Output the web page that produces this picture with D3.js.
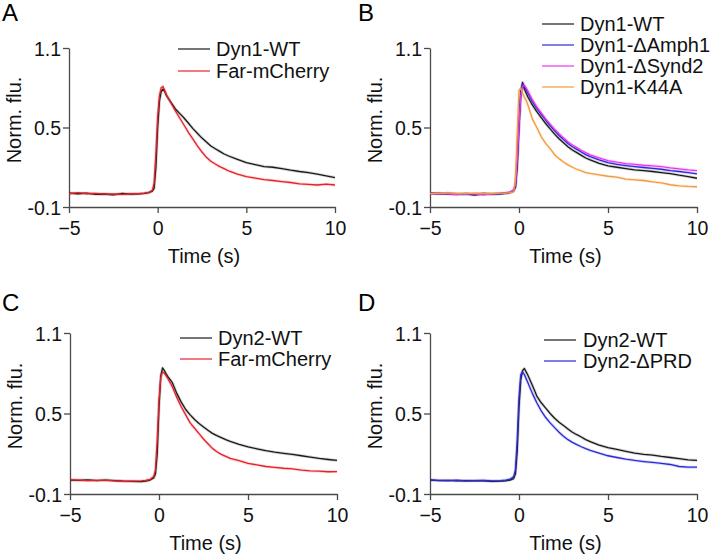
<!DOCTYPE html>
<html>
<head>
<meta charset="utf-8">
<script src="https://cdn.jsdelivr.net/npm/d3@7"></script>
<style>
  html, body { margin: 0; padding: 0; background: #fff; }
  svg { display: block; font-family: "Liberation Sans", Arial, Helvetica, sans-serif; }
</style>
</head>
<body>
<svg id="chart" width="712" height="557"></svg>
<script>
// ---------- DATA ----------
const time = [-5,-4.5,-4,-3.5,-3,-2.5,-2,-1.5,-1,-0.75,-0.5,-0.3,-0.2,-0.1,0,0.1,0.2,0.3,0.4,0.5,0.75,1,1.25,1.5,1.75,2,2.25,2.5,2.75,3,3.25,3.5,3.75,4,4.5,5,5.5,6,6.5,7,7.5,8,8.5,9,9.5,10];
const xTicks = [-5, 0, 5, 10];
const yTicks = [-0.1, 0.5, 1.1];
const yTickLabels = ["-0.1", "0.5", "1.1"];

const dyn1WT_A = [0.005,0.0,0.004,-0.004,-0.002,-0.008,0.002,-0.003,0.0,0.003,0.008,0.02,0.04,0.2,0.5,0.7,0.77,0.79,0.77,0.74,0.69,0.64,0.605,0.57,0.53,0.49,0.455,0.42,0.39,0.36,0.34,0.32,0.3,0.285,0.26,0.235,0.22,0.205,0.2,0.19,0.178,0.168,0.16,0.148,0.135,0.122];
const farMCherry_A = [0.0,0.008,0.0,0.003,-0.003,-0.002,-0.005,0.0,0.002,0.004,0.01,0.025,0.08,0.3,0.58,0.74,0.8,0.81,0.78,0.745,0.685,0.625,0.57,0.515,0.46,0.41,0.36,0.315,0.275,0.245,0.225,0.205,0.19,0.172,0.148,0.13,0.118,0.107,0.1,0.092,0.085,0.075,0.07,0.066,0.072,0.066];

const dyn1WT_B = [0.004,-0.002,0.003,-0.003,0.0,-0.01,0.0,-0.004,0.002,0.003,0.01,0.022,0.05,0.2,0.5,0.75,0.84,0.79,0.76,0.73,0.67,0.62,0.575,0.53,0.49,0.45,0.415,0.385,0.355,0.33,0.31,0.29,0.27,0.255,0.23,0.21,0.2,0.19,0.18,0.175,0.168,0.16,0.152,0.14,0.13,0.117];
const dyn1Amph1 = [0.002,0.003,-0.002,0.0,-0.004,-0.004,0.002,-0.002,0.0,0.004,0.01,0.024,0.06,0.25,0.55,0.77,0.83,0.81,0.785,0.76,0.695,0.645,0.6,0.555,0.515,0.475,0.44,0.41,0.38,0.355,0.335,0.315,0.295,0.28,0.255,0.235,0.222,0.213,0.205,0.198,0.192,0.185,0.175,0.168,0.16,0.15];
const dyn1Synd2 = [0.0,0.004,0.0,-0.006,0.002,-0.002,-0.008,0.0,0.003,0.005,0.012,0.03,0.07,0.25,0.52,0.74,0.81,0.82,0.8,0.775,0.71,0.655,0.61,0.565,0.525,0.487,0.453,0.422,0.393,0.368,0.348,0.328,0.31,0.293,0.27,0.25,0.238,0.228,0.222,0.215,0.21,0.205,0.195,0.188,0.18,0.174];
const dyn1K44A = [0.003,0.0,0.006,0.002,0.0,0.004,0.002,0.0,0.004,0.005,0.008,0.015,0.1,0.45,0.78,0.8,0.76,0.73,0.705,0.67,0.565,0.5,0.43,0.38,0.34,0.295,0.265,0.24,0.218,0.2,0.185,0.172,0.16,0.153,0.142,0.132,0.125,0.11,0.105,0.1,0.09,0.082,0.068,0.06,0.055,0.053];

const dyn2WT_C = [0.004,0.002,0.005,0.0,0.004,0.0,-0.004,-0.006,-0.008,-0.004,0.004,0.02,0.05,0.2,0.55,0.78,0.84,0.82,0.795,0.775,0.73,0.65,0.585,0.53,0.49,0.455,0.425,0.4,0.375,0.352,0.335,0.32,0.305,0.292,0.27,0.252,0.237,0.223,0.212,0.203,0.195,0.185,0.175,0.165,0.157,0.15];
const farMCherry_C = [0.006,0.004,0.0,0.002,0.002,-0.002,-0.005,-0.004,-0.002,0.002,0.008,0.03,0.08,0.3,0.6,0.77,0.81,0.8,0.78,0.76,0.7,0.62,0.55,0.49,0.43,0.39,0.35,0.31,0.275,0.24,0.215,0.195,0.18,0.165,0.148,0.128,0.117,0.105,0.098,0.092,0.088,0.078,0.072,0.07,0.066,0.067];

const dyn2WT_D = [0.005,0.0,0.002,-0.002,0.0,-0.002,-0.002,-0.006,-0.004,-0.002,0.004,0.015,0.05,0.22,0.55,0.75,0.82,0.835,0.81,0.785,0.71,0.63,0.58,0.54,0.5,0.465,0.435,0.41,0.385,0.36,0.342,0.325,0.305,0.29,0.265,0.245,0.232,0.218,0.205,0.196,0.19,0.18,0.172,0.163,0.155,0.15];
const dyn2PRD = [0.004,0.002,0.0,0.003,-0.002,0.0,0.002,-0.002,0.0,0.004,0.01,0.03,0.08,0.3,0.62,0.79,0.81,0.79,0.76,0.73,0.65,0.58,0.52,0.47,0.43,0.395,0.36,0.33,0.305,0.285,0.268,0.252,0.238,0.225,0.205,0.185,0.172,0.16,0.15,0.142,0.135,0.128,0.12,0.105,0.1,0.1];

const panelLetters = ["A", "B", "C", "D"];
const seriesNamesA = ["Dyn1-WT", "Far-mCherry"];
const seriesNamesB = ["Dyn1-WT", "Dyn1-ΔAmph1", "Dyn1-ΔSynd2", "Dyn1-K44A"];
const seriesNamesC = ["Dyn2-WT", "Far-mCherry"];
const seriesNamesD = ["Dyn2-WT", "Dyn2-ΔPRD"];

// ---------- STYLE / LAYOUT ----------
const COL = { black: "#1a1a1a", red: "#e8202a", blue: "#2a2ad8", magenta: "#ee35ee", orange: "#f39a3c" };

const panels = [
  { letter: panelLetters[0], box: { x0: 69, x1: 335, y0: 48, y1: 207 }, lp: { x: 178, y: 49, gap: 22, tx: 216 },
    series: [ { name: seriesNamesA[0], v: dyn1WT_A, c: COL.black }, { name: seriesNamesA[1], v: farMCherry_A, c: COL.red } ] },
  { letter: panelLetters[1], box: { x0: 430, x1: 697, y0: 48, y1: 207 }, lp: { x: 542, y: 24, gap: 21, tx: 580 },
    series: [ { name: seriesNamesB[0], v: dyn1WT_B, c: COL.black }, { name: seriesNamesB[1], v: dyn1Amph1, c: COL.blue },
              { name: seriesNamesB[2], v: dyn1Synd2, c: COL.magenta }, { name: seriesNamesB[3], v: dyn1K44A, c: COL.orange } ] },
  { letter: panelLetters[2], box: { x0: 70, x1: 337, y0: 333, y1: 494 }, lp: { x: 180, y: 338, gap: 21, tx: 218 },
    series: [ { name: seriesNamesC[0], v: dyn2WT_C, c: COL.black }, { name: seriesNamesC[1], v: farMCherry_C, c: COL.red } ] },
  { letter: panelLetters[3], box: { x0: 430, x1: 697, y0: 333, y1: 494 }, lp: { x: 544, y: 340, gap: 21, tx: 583 },
    series: [ { name: seriesNamesD[0], v: dyn2WT_D, c: COL.black }, { name: seriesNamesD[1], v: dyn2PRD, c: COL.blue } ] }
];

const svg = d3.select("#chart");
const AXIS_COL = "#4a4a4a";

panels.forEach((p, i) => {
  const b = p.box;
  const x = d3.scaleLinear().domain([-5, 10]).range([b.x0, b.x1]);
  const y = d3.scaleLinear().domain([-0.1, 1.1]).range([b.y1, b.y0]);
  const g = svg.append("g");

  // panel letter
  const col = i % 2, row = Math.floor(i / 2);
  g.append("text").attr("x", col === 0 ? 2 : 358).attr("y", row === 0 ? 21 : 311)
    .attr("font-size", 24).attr("fill", "#000").text(p.letter);

  // axes
  const xAxis = d3.axisBottom(x).tickValues(xTicks).tickSize(6).tickSizeOuter(0).tickPadding(4).tickFormat(d3.format("d"));
  const yAxis = d3.axisLeft(y).tickValues(yTicks).tickSize(6).tickSizeOuter(0).tickPadding(2)
    .tickFormat((d, k) => yTickLabels[k]);

  const gx = g.append("g").attr("transform", `translate(0,${b.y1})`).call(xAxis);
  const gy = g.append("g").attr("transform", `translate(${b.x0},0)`).call(yAxis);
  [gx, gy].forEach(ax => {
    ax.select(".domain").attr("stroke", AXIS_COL).attr("stroke-width", 1.3);
    ax.selectAll(".tick line").attr("stroke", AXIS_COL).attr("stroke-width", 1.3);
    ax.selectAll(".tick text").attr("fill", "#111").attr("font-size", 19.5).attr("font-family", null);
  });
  gx.selectAll(".tick text").attr("dy", null).attr("y", 28);
  gy.selectAll(".tick text").attr("dy", "0.36em");

  // axis titles
  g.append("text").attr("x", (b.x0 + b.x1) / 2 + 2).attr("y", b.y1 + 56)
    .attr("text-anchor", "middle").attr("font-size", 20).attr("fill", "#111").text("Time (s)");
  g.append("text").attr("transform", `translate(${b.x0 - 48},${(b.y0 + b.y1) / 2 - 7.5}) rotate(-90)`)
    .attr("text-anchor", "middle").attr("font-size", 20).attr("fill", "#111").text("Norm. flu.");

  // lines (light SEM-like halo, then trace)
  const line = d3.line().x((d, k) => x(time[k])).y(d => y(d));
  p.series.forEach(s => {
    g.append("path").datum(s.v).attr("d", line).attr("fill", "none")
      .attr("stroke", s.c).attr("stroke-opacity", 0.18).attr("stroke-width", 3).attr("stroke-linejoin", "round");
  });
  p.series.forEach(s => {
    g.append("path").datum(s.v).attr("d", line).attr("fill", "none")
      .attr("stroke", s.c).attr("stroke-width", 1.3).attr("stroke-linejoin", "round");
  });

  // legend
  p.series.forEach((s, k) => {
    const ly = p.lp.y + k * p.lp.gap;
    g.append("line").attr("x1", p.lp.x).attr("x2", p.lp.x + 32).attr("y1", ly).attr("y2", ly)
      .attr("stroke", s.c).attr("stroke-width", 1.2);
    g.append("text").attr("x", p.lp.tx).attr("y", ly).attr("dy", "0.35em")
      .attr("font-size", 20).attr("fill", "#111").text(s.name);
  });
});
</script>
</body>
</html>
